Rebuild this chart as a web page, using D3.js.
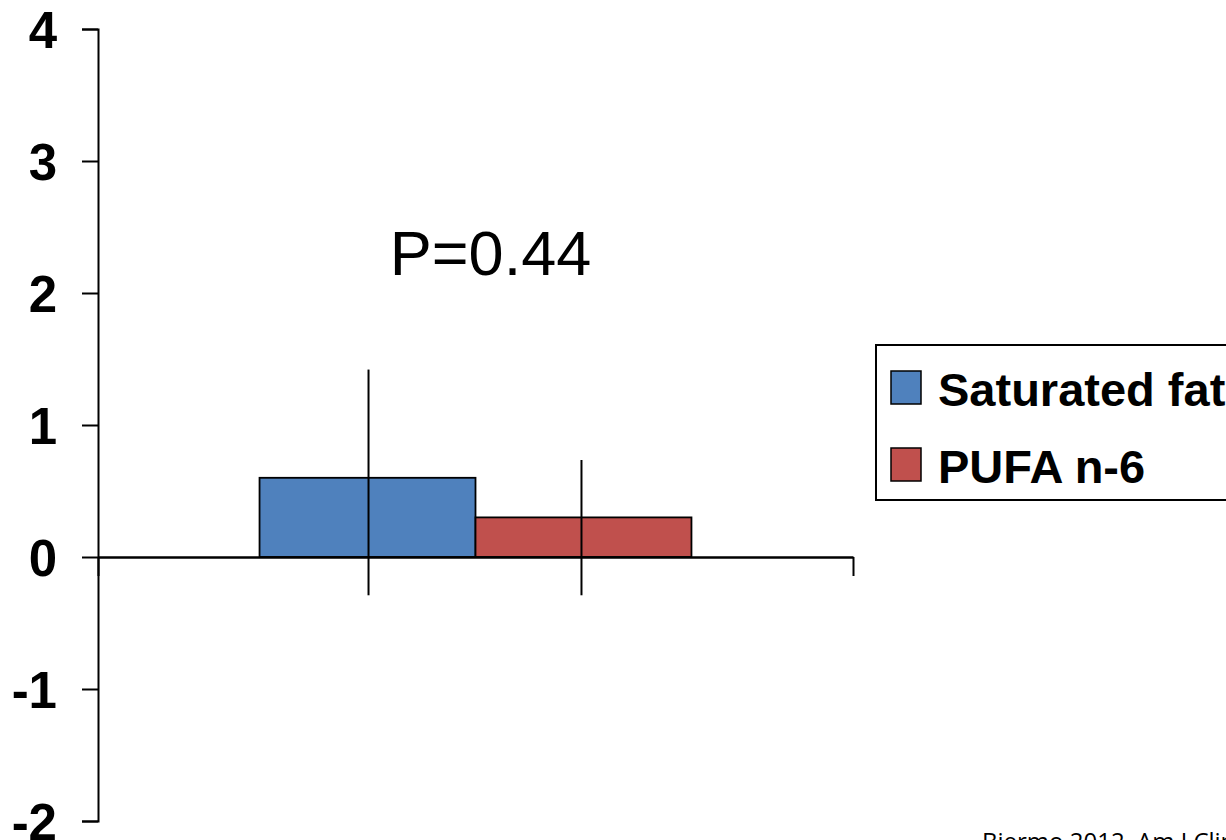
<!DOCTYPE html>
<html>
<head>
<meta charset="utf-8">
<script src="https://cdn.jsdelivr.net/npm/d3@7"></script>
<style>
  body { margin: 0; background: #fff; }
  svg { display: block; }
  text { font-family: "Liberation Sans", Arial, sans-serif; }
</style>
</head>
<body>
<div id="chart"></div>
<script>
// values
var groups = ["all"];
var seriesNames = ["Saturated fat", "PUFA n-6"];
var seriesColors = ["#4f81bd", "#c0504d"];
var means = [0.6, 0.3];
var errLow = [-0.29, -0.29];
var errHigh = [1.42, 0.735];
var yTicks = [-2, -1, 0, 1, 2, 3, 4];
var pLabel = "P=0.44";
var source = "Bjermo 2012, Am J Clin Nutr";

var svgWidth = 1226;
var svgHeight = 840;

var margin = { top: 29, right: 373, bottom: 19, left: 98 };
var width = svgWidth - margin.left - margin.right;
var height = svgHeight - margin.top - margin.bottom;

var svg = d3.select("#chart")
  .append("svg")
    .attr("width", svgWidth)
    .attr("height", svgHeight);

var chartGroup = svg.append("g")
  .attr("transform", `translate(${margin.left}, ${margin.top})`);

var y = d3.scaleLinear()
  .domain([-2, 4])
  .range([height, 0]);

var x0 = d3.scaleBand()
  .domain(groups)
  .range([0, width])
  .paddingInner(0)
  .paddingOuter(0.374);

var x1 = d3.scaleBand()
  .domain(seriesNames)
  .range([0, x0.bandwidth()]);

// y axis (plain hyphen for negatives, like the original)
var leftAxis = d3.axisLeft(y)
  .tickValues(yTicks)
  .tickSize(16)
  .tickSizeOuter(16)
  .tickPadding(25)
  .tickFormat(d => String(d));

var yAxis = chartGroup.append("g").call(leftAxis);
yAxis.select(".domain").attr("stroke", "#000").attr("stroke-width", 2);
yAxis.selectAll(".tick line").attr("stroke", "#000").attr("stroke-width", 2);
yAxis.selectAll(".tick text")
  .attr("fill", "#000")
  .style("font-size", "51px")
  .style("font-weight", "bold")
  .attr("dy", "0.36em");

// bars
var bars = chartGroup.selectAll("rect.bar")
  .data(seriesNames)
  .enter().append("rect")
    .attr("class", "bar")
    .attr("x", (d, i) => x0(groups[0]) + x1(d))
    .attr("width", x1.bandwidth())
    .attr("y", (d, i) => y(Math.max(0, means[i])))
    .attr("height", (d, i) => Math.abs(y(means[i]) - y(0)))
    .attr("fill", (d, i) => seriesColors[i])
    .attr("stroke", "#000")
    .attr("stroke-width", 1.8);

// x axis at zero, ticks pointing down at the category edges
var xEdge = d3.scaleLinear().domain([0, 1]).range([0, width]);
var bottomAxis = d3.axisBottom(xEdge)
  .tickValues([0, 1])
  .tickSize(19)
  .tickSizeOuter(0)
  .tickFormat("");
var xAxis = chartGroup.append("g")
  .attr("transform", `translate(0, ${y(0)})`)
  .call(bottomAxis);
xAxis.select(".domain").attr("stroke", "#000").attr("stroke-width", 2.5);
xAxis.selectAll(".tick line").attr("stroke", "#000").attr("stroke-width", 2);

// error bars, no caps
chartGroup.selectAll("line.err")
  .data(seriesNames)
  .enter().append("line")
    .attr("class", "err")
    .attr("x1", (d, i) => x0(groups[0]) + x1(d) + x1.bandwidth() / 2 + (i ? -2 : 1))
    .attr("x2", (d, i) => x0(groups[0]) + x1(d) + x1.bandwidth() / 2 + (i ? -2 : 1))
    .attr("y1", (d, i) => y(errHigh[i]))
    .attr("y2", (d, i) => y(errLow[i]))
    .attr("stroke", "#000")
    .attr("stroke-width", 2);

// p value
chartGroup.append("text")
  .attr("x", x0(groups[0]) + x0.bandwidth() / 2 + 15)
  .attr("y", y(0) - 282)
  .attr("text-anchor", "middle")
  .style("font-size", "63px")
  .attr("fill", "#000")
  .text(pLabel);

// legend
var legend = svg.append("g")
  .attr("transform", "translate(876, 345)");
legend.append("rect")
  .attr("width", 400)
  .attr("height", 155)
  .attr("fill", "#fff")
  .attr("stroke", "#000")
  .attr("stroke-width", 2);

var items = legend.selectAll("g.item")
  .data(seriesNames)
  .enter().append("g")
    .attr("class", "item")
    .attr("transform", (d, i) => `translate(15, ${26 + i * 77})`);
items.append("rect")
  .attr("width", 30)
  .attr("height", 33)
  .attr("fill", (d, i) => seriesColors[i])
  .attr("stroke", "#000")
  .attr("stroke-width", 1.5);
items.append("text")
  .attr("x", 47)
  .attr("y", 35)
  .style("font-size", "47px")
  .style("font-weight", "bold")
  .attr("fill", "#000")
  .text(d => d);

// source note, cut by the bottom edge as in the original
svg.append("text")
  .attr("x", 982)
  .attr("y", 850)
  .style("font-family", "'Open Sans', sans-serif")
  .style("font-size", "24px")
  .attr("fill", "#000")
  .text(source);
</script>
</body>
</html>
